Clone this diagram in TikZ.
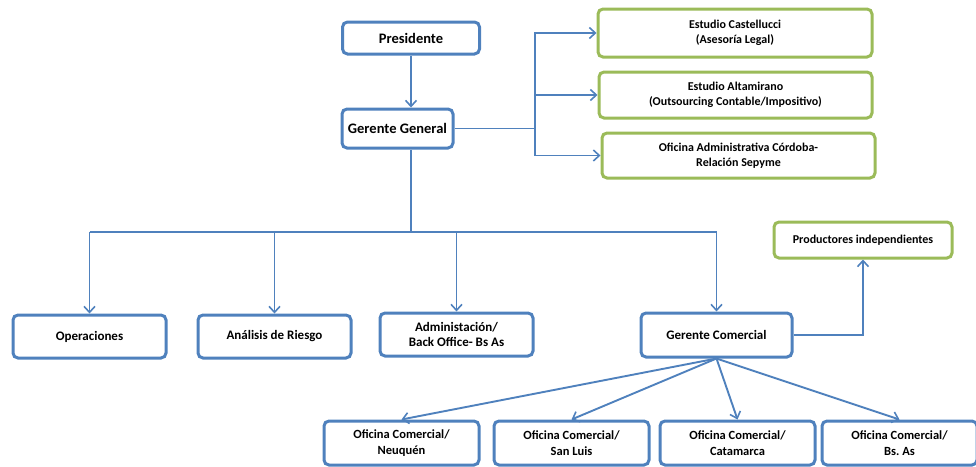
\documentclass[tikz,border=0pt]{standalone}
\usepackage{fontspec}
\setmainfont{Carlito}
\usepackage{tikz}
\usetikzlibrary{positioning, arrows.meta}
\definecolor{orgblue}{RGB}{79,129,189}
\definecolor{orggreen}{RGB}{155,187,89}

\begin{document}
\begin{tikzpicture}[x=1pt, y=-1pt, >={Straight Barb[length=6pt, width=11pt, line width=1.6pt]},
  unit/.style={draw=orgblue, line width=3pt, rounded corners=5pt, fill=white, align=center, inner sep=2pt, font=\bfseries\fontsize{13}{15}\selectfont},
  topunit/.style={unit, font=\bfseries\fontsize{14.5}{17}\selectfont},
  ext/.style={unit, draw=orggreen, font=\bfseries\fontsize{12}{15}\selectfont},
  office/.style={unit, minimum width=155pt, minimum height=44pt, font=\bfseries\fontsize{12.5}{16}\selectfont},
  flow/.style={->, draw=orgblue, line width=1.9pt},
  bus/.style={draw=orgblue, line width=1.9pt}]

  \useasboundingbox (0,0) rectangle (976,466);

  % direction
  \node[topunit, minimum width=137pt, minimum height=32pt] (pres) at (411,38) {Presidente};
  \node[topunit, minimum width=111pt, minimum height=39pt] (gg) at (397.5,128.5) {Gerente General};

  % external advisors
  \node[ext, minimum width=274pt, minimum height=48pt] (cast) at (735,33) {Estudio Castellucci\\(Asesoría Legal)};
  \node[ext, minimum width=273pt, minimum height=46pt] (alta) at (735.5,95) {Estudio Altamirano\\(Outsourcing Contable/Impositivo)};
  \node[ext, minimum width=273pt, minimum height=45pt] (cba) at (738.5,155.5) {Oficina Administrativa Córdoba-\\Relación Sepyme};

  % areas
  \node[unit, minimum width=153pt, minimum height=43pt] (oper) at (89.5,336.5) {Operaciones};
  \node[unit, minimum width=153pt, minimum height=43pt] (riesgo) at (274.5,336.5) {Análisis de Riesgo};
  \node[unit, minimum width=153pt, minimum height=43pt] (admin) at (456.5,334.5) {Administación/\\Back Office- Bs As};
  \node[unit, minimum width=151pt, minimum height=44pt] (gc) at (716.5,335) {Gerente Comercial};
  \node[ext, minimum width=178pt, minimum height=36pt] (prod) at (863,240) {Productores independientes};

  % commercial offices
  \node[office] (neuq) at (401.5,443) {Oficina Comercial/\\Neuquén};
  \node[office] (sluis) at (571.5,443) {Oficina Comercial/\\San Luis};
  \node[office] (catam) at (737.5,443) {Oficina Comercial/\\Catamarca};
  \node[office] (bsas) at (899.5,443) {Oficina Comercial/\\Bs.\ As};

  \coordinate (gg-bus) at (535,128.5);
  \coordinate (gg-drop) at (411,232);

  \draw[flow] (pres.south) -- (pres.south |- gg.north);

  \draw[bus] (gg.east) -- (gg-bus);
  \draw[flow] (gg-bus) |- (cast.west);
  \draw[flow] (gg-bus) |- (alta.west);
  \draw[flow] (gg-bus) |- (cba.west);

  \draw[bus] (gg.south -| gg-drop) -- (gg-drop);
  \draw[bus] (oper.north |- gg-drop) -- (gc.north |- gg-drop);
  \draw[flow] (oper.north |- gg-drop) -- (oper.north);
  \draw[flow] (riesgo.north |- gg-drop) -- (riesgo.north);
  \draw[flow] (admin.north |- gg-drop) -- (admin.north);
  \draw[flow] (gc.north |- gg-drop) -- (gc.north);

  \draw[flow] (gc.east) -| (prod.south);

  \draw[flow] (gc.south) -- (neuq.north);
  \draw[flow] (gc.south) -- (sluis.north);
  \draw[flow] (gc.south) -- (catam.north);
  \draw[flow] (gc.south) -- (bsas.north);

\end{tikzpicture}
\end{document}
